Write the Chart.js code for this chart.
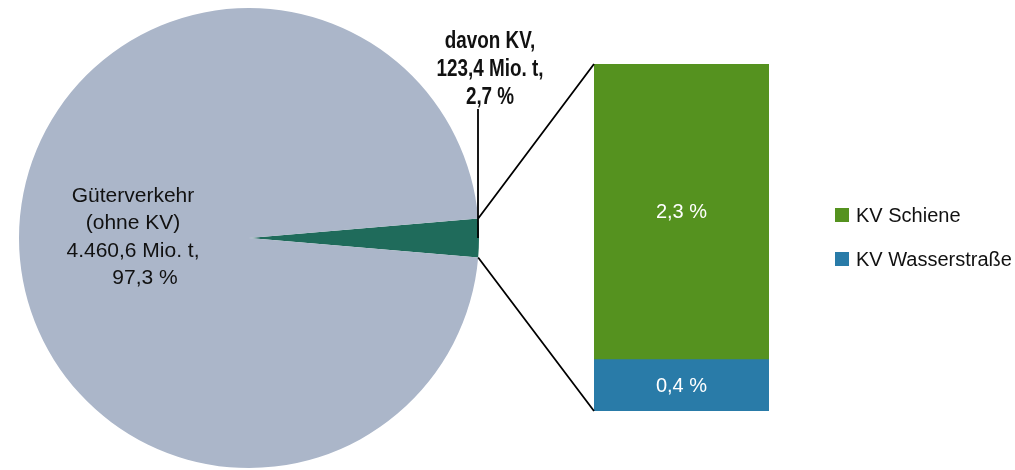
<!DOCTYPE html>
<html lang="de">
<head>
<meta charset="utf-8">
<title>Güterverkehr und Kombinierter Verkehr</title>
<script src="https://cdn.jsdelivr.net/npm/chart.js@4/dist/chart.umd.min.js"></script>
<style>
  html, body { margin: 0; padding: 0; background: #ffffff; }
  #wrap { position: relative; width: 1015px; height: 470px; }
  #wrap canvas { position: absolute; left: 0; top: 0; }
</style>
</head>
<body>
<div id="wrap">
  <canvas id="pie" width="1015" height="470"></canvas>
  <canvas id="bar" width="1015" height="470"></canvas>
</div>
<script>
// Anteile am Güterverkehr (Prozent) und Mengen (Mio. t)
const shareLabels = ['davon KV', 'Güterverkehr (ohne KV)'];
const shareValues = [2.7, 97.3];
const shareTonnage = [123.4, 4460.6];
const shareColors = ['#1f6b5b', '#abb6c9'];

// Aufteilung des Kombinierten Verkehrs (Prozent)
const kvModes = ['KV Schiene', 'KV Wasserstraße'];
const kvValues = [2.3, 0.4];
const kvColors = ['#55921f', '#297ba8'];

const FONT = '"Liberation Sans", Arial, sans-serif';

function de(v, digits) {
  const parts = v.toFixed(digits).split('.');
  parts[0] = parts[0].replace(/\B(?=(\d{3})+(?!\d))/g, '.');
  return parts.join(',');
}

// Text drawn horizontally condensed (narrow headline style)
function fillNarrow(ctx, text, x, y, factor) {
  ctx.save();
  ctx.translate(x, y);
  ctx.scale(factor, 1);
  ctx.fillText(text, 0, 0);
  ctx.restore();
}

Chart.defaults.animation = false;

// Labels inside the pie
const pieLabelPlugin = {
  id: 'pieLabels',
  afterDatasetsDraw(chart) {
    const ctx = chart.ctx;
    const arc = chart.getDatasetMeta(0).data[1];
    const cx = arc.x, cy = arc.y;
    ctx.save();
    ctx.fillStyle = '#111111';
    ctx.font = '21px ' + FONT;
    ctx.textAlign = 'center';
    ctx.textBaseline = 'middle';
    const lines = [
      ['Güterverkehr', -116],
      ['(ohne KV)', -116],
      [de(shareTonnage[1], 1) + ' Mio. t,', -116],
      [de(shareValues[1], 1) + ' %', -104]
    ];
    lines.forEach((l, i) => ctx.fillText(l[0], cx + l[1], cy - 42 + i * 27.5));
    ctx.restore();
  }
};

const pieChart = new Chart(document.getElementById('pie'), {
  type: 'pie',
  data: {
    labels: shareLabels,
    datasets: [{
      data: shareValues,
      backgroundColor: shareColors,
      borderWidth: 0
    }]
  },
  options: {
    responsive: false,
    rotation: 90 - shareValues[0] / 100 * 180,
    layout: { padding: { left: 19, top: 8, right: 536, bottom: 2 } },
    plugins: { legend: { display: false }, tooltip: { enabled: false } }
  },
  plugins: [pieLabelPlugin]
});

// Connector lines, KV label, bar value labels and legend
const overlayPlugin = {
  id: 'overlay',
  afterDatasetsDraw(chart) {
    const ctx = chart.ctx;
    const kv = pieChart.getDatasetMeta(0).data[0];
    const r = kv.outerRadius;
    const p1 = { x: kv.x + r * Math.cos(kv.startAngle), y: kv.y + r * Math.sin(kv.startAngle) };
    const p2 = { x: kv.x + r * Math.cos(kv.endAngle), y: kv.y + r * Math.sin(kv.endAngle) };
    const mid = (kv.startAngle + kv.endAngle) / 2;
    const pm = { x: kv.x + r * Math.cos(mid), y: kv.y + r * Math.sin(mid) };

    const top = chart.getDatasetMeta(0).data[0];     // KV Schiene (top segment)
    const bottom = chart.getDatasetMeta(1).data[0];  // KV Wasserstraße (bottom segment)
    const barLeft = top.x - top.width / 2;
    const barTop = top.y;
    const barBottom = bottom.base;

    ctx.save();
    ctx.strokeStyle = '#000000';
    ctx.lineWidth = 1.8;
    ctx.beginPath();
    ctx.moveTo(p1.x, p1.y);
    ctx.lineTo(barLeft, barTop);
    ctx.moveTo(p2.x, p2.y);
    ctx.lineTo(barLeft, barBottom);
    ctx.moveTo(pm.x - 1, pm.y);
    ctx.lineTo(pm.x - 1, 109);
    ctx.stroke();

    // KV label above the leader line
    ctx.fillStyle = '#111111';
    ctx.textAlign = 'center';
    ctx.textBaseline = 'middle';
    ctx.font = 'bold 23px ' + FONT;
    const kvLines = ['davon KV,', de(shareTonnage[0], 1) + ' Mio. t,', de(shareValues[0], 1) + ' %'];
    kvLines.forEach((t, i) => fillNarrow(ctx, t, pm.x + 11, 42 + i * 28, 0.82));

    // Values inside the bar segments
    ctx.fillStyle = '#ffffff';
    ctx.font = '20px ' + FONT;
    [top, bottom].forEach((el, i) => {
      const cyv = (el.y + el.base) / 2;
      ctx.fillText(de(kvValues[i], 1) + ' %', el.x, cyv + 1);
    });

    // Legend
    ctx.textAlign = 'left';
    ctx.font = '20px ' + FONT;
    kvModes.forEach((name, i) => {
      const y = 215 + i * 44;
      ctx.fillStyle = kvColors[i];
      ctx.fillRect(835, y - 7, 14, 14);
      ctx.fillStyle = '#111111';
      ctx.fillText(name, 856, y + 1);
    });
    ctx.restore();
  }
};

new Chart(document.getElementById('bar'), {
  type: 'bar',
  data: {
    labels: ['KV'],
    datasets: [
      { label: kvModes[0], data: [kvValues[0]], backgroundColor: kvColors[0], order: 1, stack: 's' },
      { label: kvModes[1], data: [kvValues[1]], backgroundColor: kvColors[1], order: 0, stack: 's' }
    ]
  },
  options: {
    responsive: false,
    layout: { padding: { left: 594, right: 246, top: 64, bottom: 59 } },
    datasets: { bar: { barPercentage: 1, categoryPercentage: 1, borderWidth: 0 } },
    scales: {
      x: { display: false, stacked: true },
      y: { display: false, stacked: true, min: 0, max: shareValues[0] }
    },
    plugins: { legend: { display: false }, tooltip: { enabled: false } }
  },
  plugins: [overlayPlugin]
});
</script>
</body>
</html>
